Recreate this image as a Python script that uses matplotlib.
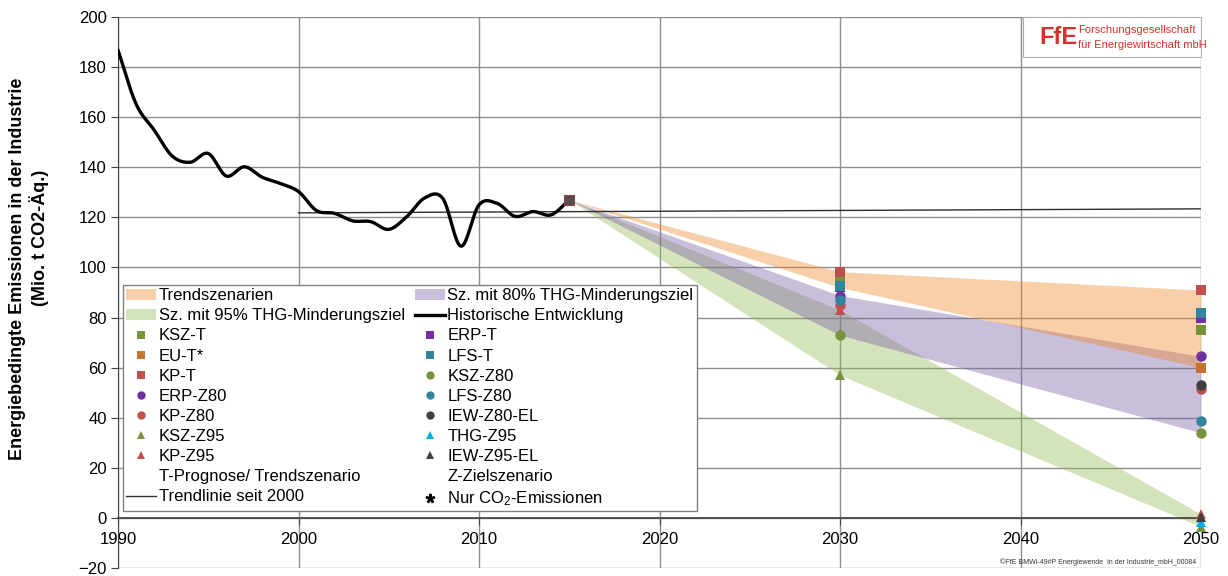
import numpy as np
import matplotlib
matplotlib.use("Agg")
import matplotlib.pyplot as plt
from matplotlib.lines import Line2D
from matplotlib.patches import Patch, Rectangle

plt.rcParams['font.family'] = ['Liberation Sans', 'DejaVu Sans']
plt.rcParams['mathtext.fontset'] = 'custom'
plt.rcParams['mathtext.rm'] = 'Liberation Sans'
plt.rcParams['mathtext.it'] = 'Liberation Sans:italic'
plt.rcParams['mathtext.bf'] = 'Liberation Sans:bold'

# Historical energy-related emissions of industry (Mio. t CO2-eq.)
hist_years = list(range(1990, 2016))
hist_values = [186.8, 165.3, 154.9, 144.5, 142.0, 145.5, 136.5, 140.2, 136.0, 133.5,
               130.3, 122.7, 121.6, 118.6, 118.3, 115.2, 120.3, 127.8, 127.5, 108.5,
               125.0, 125.6, 120.4, 122.3, 121.0, 127.0]

# Linear trend line since 2000
trend_years = [2000, 2050]
trend_values = [121.8, 123.4]

# Scenario results
scenario_names = ['KSZ-T', 'EU-T*', 'KP-T', 'ERP-Z80', 'KP-Z80', 'KSZ-Z95', 'KP-Z95',
                  'ERP-T', 'LFS-T', 'KSZ-Z80', 'LFS-Z80', 'IEW-Z80-EL', 'THG-Z95', 'IEW-Z95-EL']
scenario_groups = ['T', 'T', 'T', 'Z80', 'Z80', 'Z95', 'Z95',
                   'T', 'T', 'Z80', 'Z80', 'Z80', 'Z95', 'Z95']
scenario_colors = ['#77933C', '#C5732F', '#C0504D', '#7030A0', '#C0504D', '#77933C', '#C0504D',
                   '#7030A0', '#31859C', '#77933C', '#31859C', '#404040', '#00B0F0', '#404040']
scenario_markers = ['s', 's', 's', 'o', 'o', '^', '^',
                    's', 's', 'o', 'o', 'o', '^', '^']
nan = np.nan
values_2030 = [95.5, nan, 98.3, 88.8, 85.0, 57.0, 83.0,
               92.0, 92.5, 73.0, 87.0, nan, nan, nan]
values_2050 = [75.0, 60.0, 91.0, 64.5, 51.5, -3.5, 1.5,
               80.0, 82.0, 34.0, 38.5, 53.0, -1.5, 0.5]

band_labels = {'T': 'Trendszenarien',
               'Z80': 'Sz. mit 80% THG-Minderungsziel',
               'Z95': 'Sz. mit 95% THG-Minderungsziel'}
band_colors = {'T': '#F2872B', 'Z80': '#7A5FA3', 'Z95': '#96B95A'}

x_ticks = [1990, 2000, 2010, 2020, 2030, 2040, 2050]
y_ticks = list(range(-20, 201, 20))


def catmull_rom(x, y, n=24):
    """Smooth curve through all points (cubic Hermite with Catmull-Rom tangents)."""
    x = np.asarray(x, float)
    y = np.asarray(y, float)
    m = np.zeros_like(y)
    m[1:-1] = (y[2:] - y[:-2]) / (x[2:] - x[:-2])
    m[0] = (y[1] - y[0]) / (x[1] - x[0])
    m[-1] = (y[-1] - y[-2]) / (x[-1] - x[-2])
    xs, ys = [], []
    for i in range(len(x) - 1):
        h = x[i + 1] - x[i]
        t = np.linspace(0, 1, n, endpoint=False)
        h00 = 2 * t**3 - 3 * t**2 + 1
        h10 = t**3 - 2 * t**2 + t
        h01 = -2 * t**3 + 3 * t**2
        h11 = t**3 - t**2
        xs.append(x[i] + t * h)
        ys.append(h00 * y[i] + h10 * h * m[i] + h01 * y[i + 1] + h11 * h * m[i + 1])
    xs.append([x[-1]])
    ys.append([y[-1]])
    return np.concatenate(xs), np.concatenate(ys)


fig = plt.figure(figsize=(12.28, 5.76), dpi=100)
W, H = 1228, 576
ax = fig.add_axes([118 / W, 1 - 568 / H, (1201 - 118) / W, (568 - 17) / H])
ax.set_xlim(1990, 2050)
ax.set_ylim(-20, 200)
ax.set_xticks(x_ticks)
ax.set_yticks(y_ticks)
ax.set_axisbelow(True)
ax.grid(True, color='#8E8E8E', linewidth=1.0)

for s in ['top', 'right']:
    ax.spines[s].set_visible(False)
ax.spines['left'].set_color('#404040')
ax.spines['bottom'].set_position(('data', 0))
ax.spines['bottom'].set_color('#404040')
ax.spines['bottom'].set_linewidth(1.2)
ax.tick_params(axis='y', direction='out', length=5, color='#404040', labelsize=12, pad=3)
ax.tick_params(axis='x', direction='out', length=5, color='#404040', labelsize=12, pad=5)

# Scenario corridors from the start year to 2030 and 2050
start_year, start_value = hist_years[-1], hist_values[-1]
for grp in ['Z95', 'Z80', 'T']:
    v30 = [v for v, g in zip(values_2030, scenario_groups) if g == grp and not np.isnan(v)]
    v50 = [v for v, g in zip(values_2050, scenario_groups) if g == grp and not np.isnan(v)]
    yrs = [start_year, 2030, 2050]
    upper = [start_value, max(v30), max(v50)]
    lower = [start_value, min(v30), min(v50)]
    ax.fill_between(yrs, lower, upper, color=band_colors[grp], alpha=0.4,
                    linewidth=0, zorder=1)

# Trend line and historical development
ax.plot(trend_years, trend_values, color='#303030', linewidth=1.0, zorder=3)
sx, sy = catmull_rom(hist_years, hist_values)
ax.plot(sx, sy, color='black', linewidth=2.4, zorder=4, solid_capstyle='round')
ax.plot([start_year], [start_value], marker='s', markersize=7, color='#505050',
        markeredgecolor='#A04040', markeredgewidth=0.8, zorder=5, linestyle='none')

# Scenario points
handles = {}
for name, col, mk, v30, v50 in zip(scenario_names, scenario_colors, scenario_markers,
                                   values_2030, values_2050):
    xs = [yr for yr, v in zip([2030, 2050], [v30, v50]) if not np.isnan(v)]
    ys = [v for v in [v30, v50] if not np.isnan(v)]
    ax.plot(xs, ys, linestyle='none', marker=mk, markersize=7.5, color=col,
            markeredgewidth=0, zorder=6, clip_on=False)
    handles[name] = Line2D([], [], linestyle='none', marker=mk, markersize=6,
                           color=col, markeredgewidth=0)

blank = Line2D([], [], linestyle='none', color='none')
col1 = [(Patch(facecolor=band_colors['T'], alpha=0.4, linewidth=0), band_labels['T']),
        (Patch(facecolor=band_colors['Z95'], alpha=0.4, linewidth=0), band_labels['Z95']),
        (handles['KSZ-T'], 'KSZ-T'), (handles['EU-T*'], 'EU-T*'), (handles['KP-T'], 'KP-T'),
        (handles['ERP-Z80'], 'ERP-Z80'), (handles['KP-Z80'], 'KP-Z80'),
        (handles['KSZ-Z95'], 'KSZ-Z95'), (handles['KP-Z95'], 'KP-Z95'),
        (blank, 'T-Prognose/ Trendszenario'),
        (Line2D([], [], color='#303030', linewidth=1.0), 'Trendlinie seit 2000')]
col2 = [(Patch(facecolor=band_colors['Z80'], alpha=0.4, linewidth=0), band_labels['Z80']),
        (Line2D([], [], color='black', linewidth=2.4), 'Historische Entwicklung'),
        (handles['ERP-T'], 'ERP-T'), (handles['LFS-T'], 'LFS-T'),
        (handles['KSZ-Z80'], 'KSZ-Z80'), (handles['LFS-Z80'], 'LFS-Z80'),
        (handles['IEW-Z80-EL'], 'IEW-Z80-EL'), (handles['THG-Z95'], 'THG-Z95'),
        (handles['IEW-Z95-EL'], 'IEW-Z95-EL'),
        (blank, 'Z-Zielszenario'),
        (Line2D([], [], linestyle='none', marker='$*$', markersize=6, color='black'),
         'Nur CO$_2$-Emissionen')]
leg_items = col1 + col2
leg = fig.legend([h for h, _ in leg_items], [l for _, l in leg_items], ncol=2,
                 loc='upper left', bbox_to_anchor=(123 / W, 1 - 285 / H),
                 bbox_transform=fig.transFigure, fontsize=12, frameon=True,
                 fancybox=False, edgecolor='#808080', framealpha=1.0,
                 borderpad=0.2, borderaxespad=0, handlelength=1.8, handleheight=0.6,
                 handletextpad=0.15, columnspacing=0.6, labelspacing=0.305)
leg.get_frame().set_linewidth(1.0)
leg.set_zorder(10)

# Axis title
fig.text(18 / W, 1 - 269 / H, 'Energiebedingte Emissionen in der Industrie',
         rotation=90, ha='center', va='center', fontsize=13, fontweight='bold')
fig.text(39 / W, 1 - 238 / H, '(Mio. t CO2-Äq.)',
         rotation=90, ha='center', va='center', fontsize=13, fontweight='bold')

# Institute logo
fig.patches.append(Rectangle((1023 / W, 1 - 57 / H), (1201 - 1023) / W, (57 - 17) / H,
                             transform=fig.transFigure, facecolor='white',
                             edgecolor='#B0B0B0', linewidth=0.8, zorder=5))
logo_red = '#D7312C'
fig.text(1039 / W, 1 - 38 / H, 'FfE', ha='left', va='center', fontsize=17,
         fontweight='bold', color=logo_red, zorder=6)
fig.text(1078 / W, 1 - 30 / H, 'Forschungsgesellschaft', ha='left', va='center',
         fontsize=8, color=logo_red, zorder=6)
fig.text(1078 / W, 1 - 45 / H, 'für Energiewirtschaft mbH', ha='left', va='center',
         fontsize=8, color=logo_red, zorder=6)

fig.text(1196 / W, 1 - 562 / H, '©FfE BMWi-49#P Energiewende  in der Industrie_mbH_00084',
         ha='right', va='center', fontsize=5, color='#333333')

fig.savefig('out.png', dpi=100)
